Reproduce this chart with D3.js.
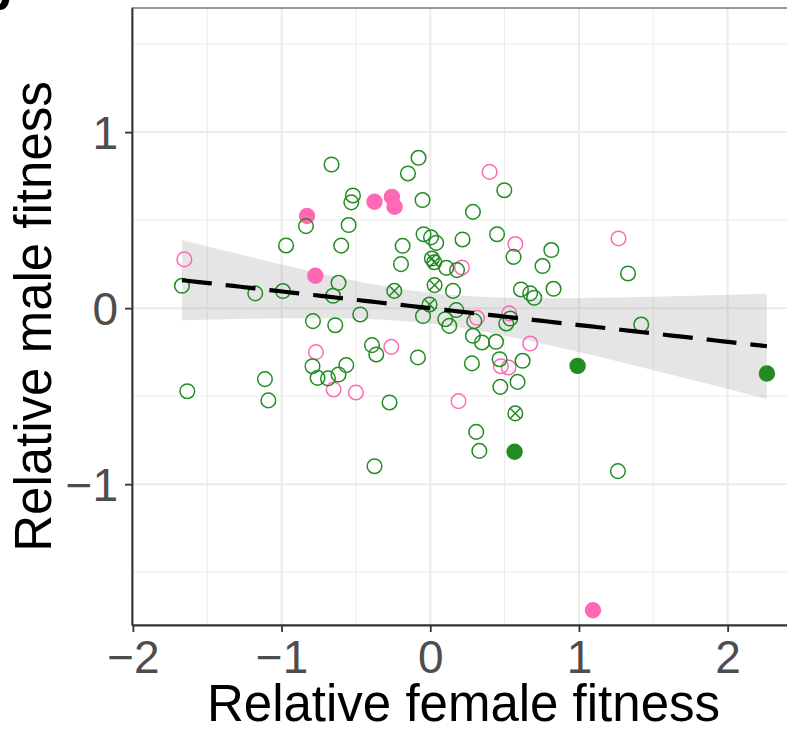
<!DOCTYPE html>
<html>
<head>
<meta charset="utf-8">
<script src="https://cdn.jsdelivr.net/npm/d3@7"></script>
<style>
  body { margin: 0; background: #fff; }
  svg { display: block; }
</style>
</head>
<body>
<div id="chart"></div>
<script>
// Relative female fitness (x) vs relative male fitness (y)
const greenOpen = [
  [-0.664, 0.816], [-0.079, 0.854], [-0.150, 0.765], [-0.520, 0.640], [-0.531, 0.601],
  [-0.052, 0.614], [0.498, 0.670], [0.287, 0.547], [-0.549, 0.472], [-0.836, 0.466],
  [-0.970, 0.356], [-0.599, 0.355], [-0.186, 0.354], [-0.197, 0.250], [-0.045, 0.420],
  [0.005, 0.402], [0.040, 0.371], [0.217, 0.390], [0.449, 0.420], [0.560, 0.291],
  [0.755, 0.239], [0.814, 0.330], [0.108, 0.229], [0.180, 0.216], [-0.617, 0.144],
  [-1.670, 0.127], [-1.177, 0.084], [-0.991, 0.097], [-0.654, 0.070], [0.153, 0.098],
  [0.610, 0.106], [0.672, 0.084], [0.699, 0.059], [0.829, 0.110], [1.330, 0.197],
  [1.419, -0.093], [-0.789, -0.074], [-0.639, -0.097], [-0.471, -0.036], [-0.049, -0.045],
  [0.175, -0.011], [0.101, -0.063], [0.128, -0.101], [0.296, -0.074], [0.538, -0.059],
  [0.511, -0.087], [0.287, -0.157], [0.348, -0.195], [0.442, -0.191], [-0.392, -0.210],
  [-0.363, -0.263], [-0.083, -0.280], [-0.565, -0.324], [-0.617, -0.377], [-0.792, -0.330],
  [-0.758, -0.396], [-0.688, -0.399], [-0.274, -0.536], [-0.375, -0.898], [0.280, -0.314],
  [0.466, -0.290], [0.621, -0.299], [0.471, -0.447], [0.587, -0.419], [0.309, -0.703],
  [0.330, -0.811], [-1.634, -0.472], [-1.112, -0.403], [-1.089, -0.524], [1.262, -0.926]
];
const greenCrossed = [
  [-0.242, 0.098], [0.011, 0.282], [0.027, 0.261], [0.029, 0.131], [-0.005, 0.021], [0.572, -0.598]
];
const greenFilled = [[0.567, -0.816], [0.991, -0.328], [2.264, -0.371]];
const pinkOpen = [
  [0.399, 0.774], [-1.654, 0.277], [0.572, 0.364], [0.213, 0.231], [-0.769, -0.250],
  [0.314, -0.055], [0.531, -0.030], [0.672, -0.201], [-0.262, -0.220], [-0.650, -0.462],
  [-0.500, -0.479], [0.475, -0.330], [0.527, -0.337], [0.190, -0.528], [1.266, 0.396]
];
const pinkFilled = [
  [-0.829, 0.523], [-0.773, 0.184], [-0.375, 0.604], [-0.258, 0.632], [-0.240, 0.576], [1.094, -1.716]
];

const xTicks = [-2, -1, 0, 1, 2];
const xMinor = [-1.5, -0.5, 0.5, 1.5];
const yTicks = [-1, 0, 1];
const yMinor = [-1.5, -0.5, 0.5, 1.5];

const green = "#228B22";
const pink = "#FF69B4";
const font = "'Liberation Sans', Arial, Helvetica, sans-serif";

const W = 787, H = 734;
const panel = { left: 132, right: 795, top: 8, bottom: 625 };

const svg = d3.select("#chart").append("svg")
  .attr("width", W).attr("height", H);

const x = d3.scaleLinear().domain([-2.006, 2.453]).range([panel.left, panel.right]);
const y = d3.scaleLinear().domain([-1.8, 1.705]).range([panel.bottom, panel.top]);

// grid
const grid = svg.append("g");
grid.selectAll(".xmin").data(xMinor).join("line")
  .attr("x1", d => x(d)).attr("x2", d => x(d))
  .attr("y1", panel.top).attr("y2", panel.bottom)
  .attr("stroke", "#ebebeb").attr("stroke-width", 1);
grid.selectAll(".ymin").data(yMinor).join("line")
  .attr("y1", d => y(d)).attr("y2", d => y(d))
  .attr("x1", panel.left).attr("x2", panel.right)
  .attr("stroke", "#ebebeb").attr("stroke-width", 1);
grid.selectAll(".xmaj").data(xTicks).join("line")
  .attr("x1", d => x(d)).attr("x2", d => x(d))
  .attr("y1", panel.top).attr("y2", panel.bottom)
  .attr("stroke", "#ebebeb").attr("stroke-width", 2);
grid.selectAll(".ymaj").data(yTicks).join("line")
  .attr("y1", d => y(d)).attr("y2", d => y(d))
  .attr("x1", panel.left).attr("x2", panel.right)
  .attr("stroke", "#ebebeb").attr("stroke-width", 2);

// linear fit with 95% confidence band, from all points
const all = [].concat(greenOpen, greenCrossed, greenFilled, pinkOpen, pinkFilled);
const n = all.length;
const mx = d3.mean(all, d => d[0]);
const my = d3.mean(all, d => d[1]);
const sxx = d3.sum(all, d => (d[0] - mx) ** 2);
const sxy = d3.sum(all, d => (d[0] - mx) * (d[1] - my));
const slope = sxy / sxx;
const icpt = my - slope * mx;
const s2 = d3.sum(all, d => (d[1] - icpt - slope * d[0]) ** 2) / (n - 2);
const tq = 1.984;
const [xmin, xmax] = d3.extent(all, d => d[0]);
const band = d3.range(0, 81).map(i => {
  const xv = xmin + (xmax - xmin) * i / 80;
  const fit = icpt + slope * xv;
  const se = Math.sqrt(s2 * (1 / n + (xv - mx) ** 2 / sxx));
  return { x: xv, fit, lo: fit - tq * se, hi: fit + tq * se };
});

svg.append("path").datum(band)
  .attr("d", d3.area().x(d => x(d.x)).y0(d => y(d.lo)).y1(d => y(d.hi)))
  .attr("fill", "#999999").attr("fill-opacity", 0.25);

// points
const pts = svg.append("g");
function openCircles(data, col) {
  pts.append("g").selectAll("circle").data(data).join("circle")
    .attr("cx", d => x(d[0])).attr("cy", d => y(d[1])).attr("r", 7.3)
    .attr("fill", "none").attr("stroke", col).attr("stroke-width", 1.5);
}
function filledCircles(data, col) {
  pts.append("g").selectAll("circle").data(data).join("circle")
    .attr("cx", d => x(d[0])).attr("cy", d => y(d[1])).attr("r", 8.2)
    .attr("fill", col);
}
openCircles(pinkOpen, pink);
filledCircles(pinkFilled, pink);
openCircles(greenOpen, green);
filledCircles(greenFilled, green);

const crossG = pts.append("g").selectAll("g").data(greenCrossed).join("g")
  .attr("transform", d => `translate(${x(d[0])},${y(d[1])})`)
  .attr("stroke", green).attr("stroke-width", 1.5).attr("fill", "none");
crossG.append("circle").attr("r", 7.3);
const k = 7.3 / Math.SQRT2;
crossG.append("line").attr("x1", -k).attr("y1", -k).attr("x2", k).attr("y2", k);
crossG.append("line").attr("x1", -k).attr("y1", k).attr("x2", k).attr("y2", -k);

// fitted line
svg.append("path").datum(band)
  .attr("d", d3.line().x(d => x(d.x)).y(d => y(d.fit)))
  .attr("fill", "none").attr("stroke", "#000").attr("stroke-width", 4.2)
  .attr("stroke-dasharray", "30,14");

// panel border
svg.append("rect")
  .attr("x", panel.left).attr("y", panel.top)
  .attr("width", panel.right - panel.left).attr("height", panel.bottom - panel.top)
  .attr("fill", "none").attr("stroke", "#333").attr("stroke-width", 1);

// axes
const xAxis = svg.append("g")
  .attr("transform", `translate(0,${panel.bottom})`)
  .call(d3.axisBottom(x).tickValues(xTicks).tickFormat(d3.format("d"))
    .tickSize(7).tickSizeOuter(0).tickPadding(8));
const yAxis = svg.append("g")
  .attr("transform", `translate(${panel.left},0)`)
  .call(d3.axisLeft(y).tickValues(yTicks).tickFormat(d3.format("d"))
    .tickSize(7).tickSizeOuter(0).tickPadding(7));

[xAxis, yAxis].forEach(a => {
  a.select(".domain").attr("stroke", "#333").attr("stroke-width", 1.8);
  a.selectAll(".tick line").attr("stroke", "#333").attr("stroke-width", 1.8);
  a.selectAll(".tick text")
    .attr("fill", "#4D4D4D")
    .style("font-family", font)
    .style("font-size", "46px");
});
yAxis.selectAll(".tick text").attr("dy", "0.36em");

// titles
svg.append("text")
  .attr("x", (panel.left + panel.right) / 2).attr("y", 721)
  .attr("text-anchor", "middle")
  .style("font-family", font).style("font-size", "51px")
  .attr("fill", "#000")
  .text("Relative female fitness");

svg.append("text")
  .attr("transform", `translate(51,${(panel.top + panel.bottom) / 2}) rotate(-90)`)
  .attr("text-anchor", "middle")
  .style("font-family", font).style("font-size", "51px")
  .attr("fill", "#000")
  .text("Relative male fitness");

// panel tag, cut at the corner
svg.append("text")
  .attr("x", -19).attr("y", 10)
  .style("font-family", font).style("font-size", "50px").style("font-weight", "bold")
  .attr("fill", "#000")
  .text("b");
</script>
</body>
</html>
